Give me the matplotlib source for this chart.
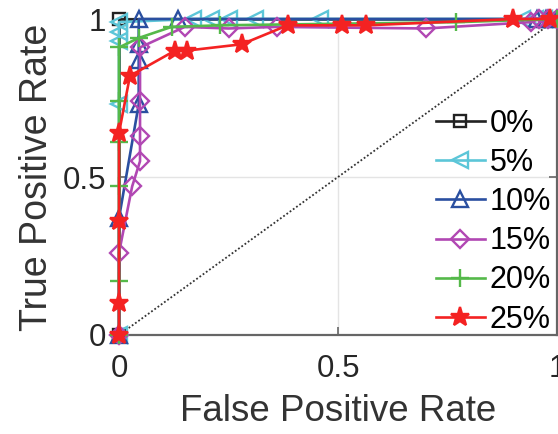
import numpy as np
import matplotlib
matplotlib.use("Agg")
import matplotlib.pyplot as plt

plt.rcParams['font.family'] = ['Liberation Sans', 'DejaVu Sans']

# ROC points, one series per noise level
labels = ['0%', '5%', '10%', '15%', '20%', '25%']

fpr_0 = [0, 0, 1.0]
tpr_0 = [0, 1.0, 1.0]

fpr_5 = [0, 0, 0, 0, 0, 0.17, 0.21, 0.25, 0.31, 0.46, 0.92, 0.95, 0.97, 1.0]
tpr_5 = [0, 0.73, 0.93, 0.96, 0.99, 1.0, 1.0, 1.0, 1.0, 1.0, 1.0, 1.0, 1.0, 1.0]

fpr_10 = [0, 0, 0.045, 0.045, 0.045, 0.045, 0.135, 0.955, 0.975, 1.0]
tpr_10 = [0, 0.37, 0.73, 0.87, 0.92, 1.0, 1.0, 1.0, 1.0, 1.0]

fpr_15 = [0, 0, 0.03, 0.048, 0.048, 0.048, 0.048, 0.15, 0.25, 0.36, 0.70, 0.94, 0.96, 0.98, 1.0]
tpr_15 = [0, 0.26, 0.47, 0.55, 0.63, 0.74, 0.91, 0.975, 0.97, 0.975, 0.97, 0.99, 1.0, 1.0, 1.0]

fpr_20 = [0, 0, 0, 0, 0, 0, 0.045, 0.12, 0.23, 0.77, 1.0]
tpr_20 = [0, 0.17, 0.47, 0.61, 0.74, 0.91, 0.94, 0.975, 0.98, 0.99, 1.0]

fpr_25 = [0, 0, 0, 0, 0.025, 0.128, 0.155, 0.28, 0.385, 0.51, 0.565, 0.90, 0.985]
tpr_25 = [0, 0.10, 0.36, 0.64, 0.82, 0.90, 0.90, 0.92, 0.98, 0.98, 0.98, 1.0, 1.0]

chance = [0, 1]

series = [(fpr_0, tpr_0), (fpr_5, tpr_5), (fpr_10, tpr_10),
          (fpr_15, tpr_15), (fpr_20, tpr_20), (fpr_25, tpr_25)]
colors = ['#222222', '#5CC6D8', '#2A4FA0', '#B147B3', '#55B94A', '#F42222']
markers = ['s', '<', '^', 'D', '+', '*']
msizes = [8, 11, 11, 9, 13, 14]

fig = plt.figure(figsize=(5.58, 4.34), dpi=100)
ax = fig.add_axes([119/558, 1-335/434, (557-119)/558, (335-19)/434])

ax.plot(chance, chance, linestyle=(0, (1, 1.2)), color='#333333', lw=1.3, zorder=1)

for (x, y), c, m, ms, lab in zip(series, colors, markers, msizes, labels):
    face = c if m == '*' else 'none'
    ax.plot(x, y, color=c, marker=m, markersize=ms, markerfacecolor=face,
            markeredgecolor=c, markeredgewidth=1.7, lw=1.9, label=lab,
            clip_on=False, zorder=3)

ax.set_xlim(0, 1)
ax.set_ylim(0, 1)
ax.set_xticks([0, 0.5, 1])
ax.set_yticks([0, 0.5, 1])
ax.set_xticklabels(['0', '0.5', '1'])
ax.set_yticklabels(['0', '0.5', '1'])
ax.grid(True, color='#e4e4e4', lw=1.0)
ax.set_axisbelow(True)

for s in ax.spines.values():
    s.set_color('#666666')
    s.set_linewidth(1.6)
ax.tick_params(direction='in', length=6, width=1.2, color='#666666',
               labelsize=22.5, labelcolor='#262626', top=True, right=True)
ax.tick_params(axis='x', pad=14)
ax.tick_params(axis='y', pad=9)

ax.set_xlabel('False Positive Rate', fontsize=26.5, color='#333333', labelpad=7)
ax.set_ylabel('True Positive Rate', fontsize=27, color='#333333', labelpad=6)

ax.legend(loc='lower right', bbox_to_anchor=(1.0, -0.018), frameon=False,
          fontsize=22, handlelength=1.6, handletextpad=0.15, labelspacing=0.3,
          borderaxespad=0.1, borderpad=0.1)

fig.savefig('out.png', dpi=100)
